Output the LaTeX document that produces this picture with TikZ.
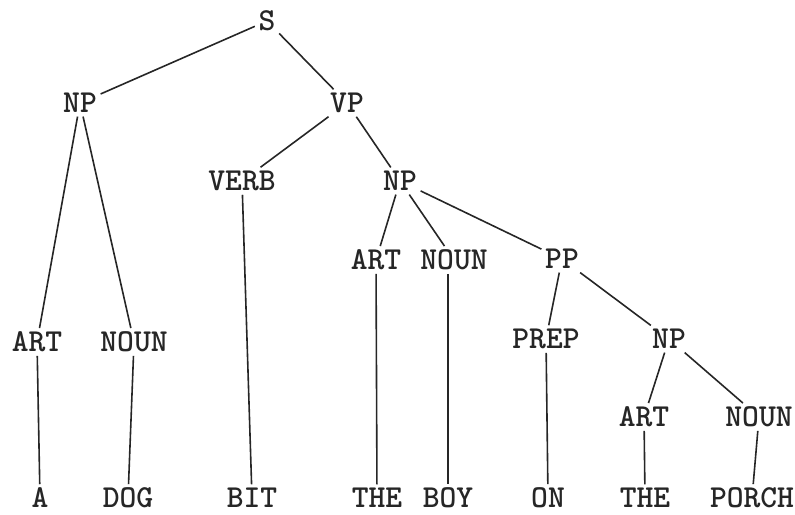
\documentclass[tikz,border=0pt]{standalone}
\usepackage{tikz}

\begin{document}
\begin{tikzpicture}[x=0.5pt, y=-0.5pt,
    cat/.style={font=\fontsize{16}{18}\selectfont\ttfamily\bfseries, inner sep=1.5pt},
    every path/.style={line width=0.8pt, black!85}]
    \useasboundingbox (0,0) rectangle (795,514);
    \node[cat] (S) at (267, 21){S};
    \node[cat] (NP1) at (80, 103){NP};
    \node[cat] (VP) at (347, 103){VP};
    \node[cat] (VERB) at (242, 181){VERB};
    \node[cat] (NP2) at (400, 181){NP};
    \node[cat] (ART2) at (376, 260){ART};
    \node[cat] (NOUN2) at (454, 260){NOUN};
    \node[cat] (PP) at (562, 259){PP};
    \node[cat] (ART1) at (37, 342){ART};
    \node[cat] (NOUN1) at (134, 342){NOUN};
    \node[cat] (PREP) at (546, 339){PREP};
    \node[cat] (NP3) at (669, 339){NP};
    \node[cat] (ART3) at (644, 417){ART};
    \node[cat] (NOUN3) at (759, 417){NOUN};
    \node[cat] (A) at (40, 498){A};
    \node[cat] (DOG) at (128, 498){DOG};
    \node[cat] (BIT) at (252, 498){BIT};
    \node[cat] (THE1) at (377, 498){THE};
    \node[cat] (BOY) at (448, 498){BOY};
    \node[cat] (ON) at (548, 498){ON};
    \node[cat] (THE2) at (645, 498){THE};
    \node[cat] (PORCH) at (752, 498){PORCH};
    \draw (S)--(NP1);
    \draw (S)--(VP);
    \draw (NP1)--(ART1);
    \draw (NP1)--(NOUN1);
    \draw (VP)--(VERB);
    \draw (VP)--(NP2);
    \draw (NP2)--(ART2);
    \draw (NP2)--(NOUN2);
    \draw (NP2)--(PP);
    \draw (PP)--(PREP);
    \draw (PP)--(NP3);
    \draw (NP3)--(ART3);
    \draw (NP3)--(NOUN3);
    \draw (ART1)--(A);
    \draw (NOUN1)--(DOG);
    \draw (VERB)--(BIT);
    \draw (ART2)--(THE1);
    \draw (NOUN2.south -| BOY.north)--(BOY);
    \draw (PREP)--(ON);
    \draw (ART3)--(THE2);
    \draw (NOUN3)--(PORCH);
  \end{tikzpicture}
\end{document}
